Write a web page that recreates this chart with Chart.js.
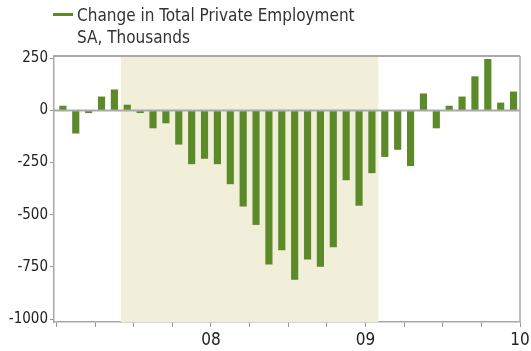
<!DOCTYPE html>
<html>
<head>
<meta charset="utf-8">
<script src="https://cdn.jsdelivr.net/npm/chart.js@4"></script>
<style>
  html, body { margin: 0; padding: 0; background: #fff; }
  #wrap { position: relative; width: 531px; height: 351px; overflow: hidden; }
  #chart { position: absolute; left: 0; top: 0; }
  .head { position: absolute; left: 77px; font-family: 'Liberation Sans Narrow', 'DejaVu Sans Condensed', sans-serif; color: #333; font-size: 17px; line-height: 20px; white-space: nowrap; }
  .swatch { position: absolute; left: 53px; top: 13px; width: 20px; height: 3px; background: #5C8A28; }
</style>
</head>
<body>
<div id="wrap">
  <canvas id="chart" width="531" height="351"></canvas>
  <div class="swatch"></div>
  <div class="head" style="top:5px">Change in Total Private Employment</div>
  <div class="head" style="top:27px">SA, Thousands</div>
</div>
<script>
document.addEventListener("DOMContentLoaded", () => {
    // ----------------------------------------------------
    // Data
    // ----------------------------------------------------
    const months = [
        'Jul 07', 'Aug 07', 'Sep 07', 'Oct 07', 'Nov 07', 'Dec 07',
        'Jan 08', 'Feb 08', 'Mar 08', 'Apr 08', 'May 08', 'Jun 08',
        'Jul 08', 'Aug 08', 'Sep 08', 'Oct 08', 'Nov 08', 'Dec 08',
        'Jan 09', 'Feb 09', 'Mar 09', 'Apr 09', 'May 09', 'Jun 09',
        'Jul 09', 'Aug 09', 'Sep 09', 'Oct 09', 'Nov 09', 'Dec 09',
        'Jan 10', 'Feb 10', 'Mar 10', 'Apr 10', 'May 10', 'Jun 10'
    ];
    const employmentChange = [
        21, -109, -11, 65, 99, 26,
        -11, -84, -60, -162, -256, -230,
        -256, -352, -459, -547, -737, -669,
        -810, -713, -747, -654, -333, -455,
        -299, -221, -187, -265, 80, -84,
        21, 65, 162, 245, 36, 89
    ];
    const recession = ['Dec 07', 'Jul 09'];   // shaded months, inclusive
    const yTicks = [-1000, -750, -500, -250, 0, 250];
    const xTickLabels = { 12: '08', 24: '09', 36: '10' };  // month offsets of year labels

    const font = "'Liberation Sans Narrow', 'DejaVu Sans Condensed', sans-serif";
    const green = '#5C8A28';
    const frameGray = '#A9A9A9';

    // ----------------------------------------------------
    // Recession shading, zero line and frame
    // ----------------------------------------------------
    const framePlugin = {
        id: 'frame',
        beforeDatasetsDraw(chart) {
            const { ctx, chartArea: a, scales: { x } } = chart;
            const x0 = x.getPixelForValue(months.indexOf(recession[0]));
            const x1 = x.getPixelForValue(months.indexOf(recession[1]) + 1);
            ctx.save();
            ctx.fillStyle = '#F1EFDA';
            ctx.fillRect(x0, a.top + 1, x1 - x0, a.bottom - a.top - 1);
            ctx.restore();
        },
        afterDatasetsDraw(chart) {
            const { ctx, chartArea: a, scales: { y } } = chart;
            const y0 = y.getPixelForValue(0);
            ctx.save();
            ctx.strokeStyle = frameGray;
            ctx.lineWidth = 2;
            ctx.beginPath();
            ctx.moveTo(a.left, y0);
            ctx.lineTo(a.right, y0);
            ctx.moveTo(a.left, a.top);
            ctx.lineTo(a.right, a.top);
            ctx.stroke();
            ctx.lineWidth = 1.5;
            ctx.beginPath();
            ctx.moveTo(a.right, a.top);
            ctx.lineTo(a.right, a.bottom);
            ctx.stroke();
            ctx.restore();
        }
    };

    // ----------------------------------------------------
    // Bar Chart
    // ----------------------------------------------------
    const ctx = document.getElementById('chart').getContext('2d');
    new Chart(ctx, {
        type: 'bar',
        data: {
            labels: months,
            datasets: [{
                label: 'Change in Total Private Employment',
                data: employmentChange.map((v, i) => ({ x: i + 0.5, y: v })),
                backgroundColor: green,
                barThickness: 6.5,
                borderWidth: 0
            }]
        },
        options: {
            responsive: false,
            animation: false,
            layout: { padding: { top: 56, right: 11, left: 0, bottom: 0 } },
            plugins: {
                legend: { display: false },
                tooltip: { enabled: false }
            },
            scales: {
                x: {
                    type: 'linear',
                    offset: false,
                    min: -0.19,
                    max: months.length,
                    afterBuildTicks: (scale) => {
                        const t = [];
                        for (let v = 0; v <= months.length; v += 3) t.push({ value: v });
                        scale.ticks = t;
                    },
                    afterFit: (scale) => {
                        scale.height = 29;
                        scale.paddingLeft = 0;
                        scale.paddingRight = 0;
                    },
                    ticks: {
                        autoSkip: false,
                        maxRotation: 0,
                        padding: 3,
                        color: '#222',
                        font: { family: font, size: 17 },
                        callback: (v) => xTickLabels[v] || ''
                    },
                    grid: { offset: false, drawOnChartArea: false, tickLength: 5, color: '#999' },
                    border: { color: frameGray, width: 1.5 }
                },
                y: {
                    min: -1014,
                    max: 261,
                    afterBuildTicks: (scale) => { scale.ticks = yTicks.map(v => ({ value: v })); },
                    afterFit: (scale) => { scale.width = 54; },
                    ticks: {
                        padding: 2,
                        color: '#222',
                        font: { family: font, size: 15 },
                        callback: (v) => String(v)
                    },
                    grid: { drawOnChartArea: false, tickLength: 4, color: '#999' },
                    border: { color: frameGray, width: 1.5 }
                }
            }
        },
        plugins: [framePlugin]
    });
});
</script>
</body>
</html>
